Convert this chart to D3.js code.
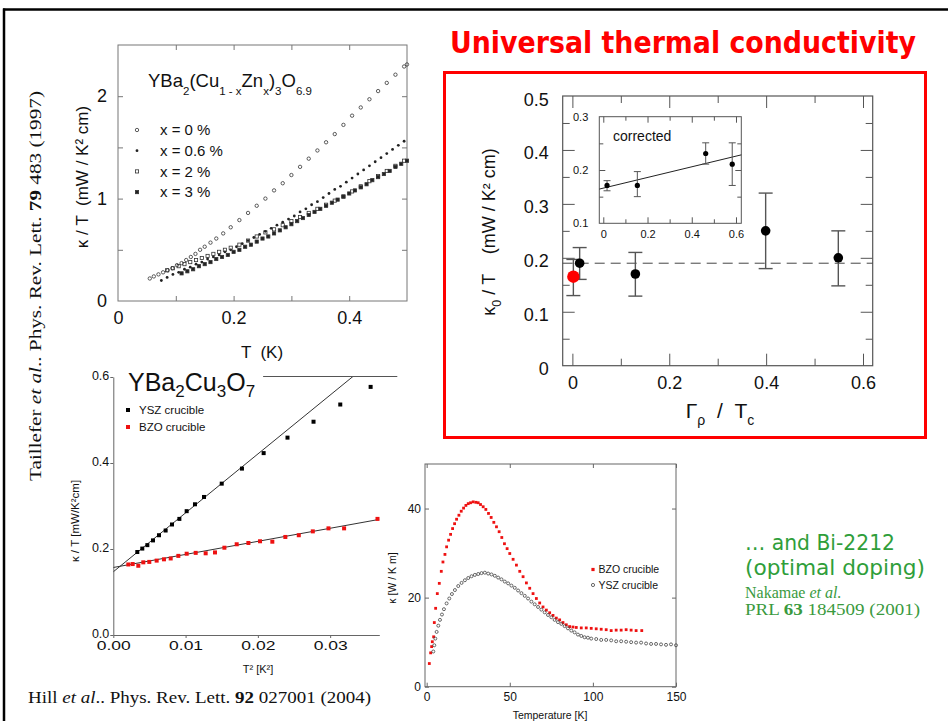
<!DOCTYPE html>
<html>
<head>
<meta charset="utf-8">
<script src="https://cdn.jsdelivr.net/npm/d3@7"></script>
<style>
  body { margin: 0; background: #fff; }
  svg { display: block; }
  text { white-space: pre; }
</style>
</head>
<body>
<svg id="slide" width="948" height="721"></svg>
<script>
// ---------- Taillefer et al. : kappa/T vs T, YBa2(Cu1-xZnx)3O6.9
const zn0 = [[0.055,0.22],[0.062,0.24],[0.07,0.26],[0.078,0.28],[0.086,0.30],[0.094,0.32],[0.102,0.35],
  [0.11,0.37],[0.118,0.40],[0.126,0.43],[0.134,0.46],[0.142,0.50],[0.15,0.53],[0.16,0.57],[0.17,0.61],
  [0.182,0.66],[0.195,0.72],[0.21,0.79],[0.225,0.86],[0.24,0.93],[0.255,1.00],[0.27,1.08],[0.285,1.15],
  [0.30,1.23],[0.315,1.31],[0.33,1.39],[0.345,1.47],[0.36,1.55],[0.375,1.63],[0.39,1.72],[0.405,1.81],
  [0.42,1.89],[0.435,1.97],[0.45,2.05],[0.465,2.13],[0.48,2.21],[0.495,2.29],[0.50,2.31]];
const zn06 = [[0.075,0.20],[0.085,0.23],[0.095,0.26],[0.105,0.28],[0.115,0.31],[0.125,0.33],[0.135,0.36],
  [0.145,0.38],[0.155,0.41],[0.165,0.43],[0.175,0.45],[0.185,0.48],[0.195,0.50],[0.205,0.53],[0.215,0.56],
  [0.225,0.59],[0.235,0.62],[0.245,0.65],[0.255,0.68],[0.265,0.71],[0.275,0.74],[0.285,0.77],[0.295,0.80],
  [0.305,0.83],[0.315,0.87],[0.325,0.90],[0.335,0.94],[0.345,0.97],[0.355,1.01],[0.365,1.05],[0.375,1.09],
  [0.385,1.12],[0.395,1.16],[0.405,1.20],[0.415,1.24],[0.425,1.28],[0.435,1.32],[0.445,1.36],[0.455,1.40],
  [0.465,1.44],[0.475,1.48],[0.485,1.52],[0.495,1.56]];
const zn2 = [[0.085,0.30],[0.095,0.32],[0.105,0.34],[0.115,0.36],[0.125,0.38],[0.135,0.40],[0.145,0.42],
  [0.155,0.44],[0.165,0.46],[0.175,0.48],[0.185,0.50],[0.195,0.52],[0.21,0.55],[0.225,0.59],[0.24,0.63],
  [0.255,0.67],[0.27,0.70],[0.285,0.74],[0.30,0.78],[0.315,0.82],[0.33,0.86],[0.345,0.90],[0.36,0.94],
  [0.375,0.98],[0.39,1.02],[0.405,1.07],[0.42,1.12],[0.435,1.17],[0.45,1.22],[0.465,1.27],[0.48,1.32],[0.495,1.37]];
const zn3 = [[0.11,0.27],[0.12,0.29],[0.13,0.31],[0.14,0.34],[0.15,0.36],[0.16,0.38],[0.17,0.41],[0.18,0.43],
  [0.19,0.45],[0.20,0.48],[0.21,0.50],[0.22,0.53],[0.23,0.55],[0.24,0.58],[0.25,0.61],[0.26,0.63],[0.27,0.66],
  [0.28,0.69],[0.29,0.72],[0.30,0.75],[0.31,0.78],[0.32,0.81],[0.33,0.84],[0.34,0.87],[0.35,0.90],[0.36,0.93],
  [0.37,0.96],[0.38,0.99],[0.39,1.02],[0.40,1.05],[0.41,1.08],[0.42,1.11],[0.43,1.14],[0.44,1.18],[0.45,1.21],
  [0.46,1.24],[0.47,1.27],[0.48,1.31],[0.49,1.34],[0.50,1.37]];
const znLegend = ['x = 0 %', 'x = 0.6 %', 'x = 2 %', 'x = 3 %'];
const aXLabels = [0, 0.2, 0.4];
const aYLabels = [0, 1, 2];

// ---------- Universal thermal conductivity : kappa0/T vs Gamma/Tc
const gammaX = [0.015, 0.13, 0.399, 0.549];
const kappa0 = [0.19, 0.17, 0.25, 0.20];
const kappa0Lo = [0.16, 0.129, 0.18, 0.148];
const kappa0Hi = [0.219, 0.21, 0.32, 0.25];
const redGamma = [0.002];
const redKappa0 = [0.165];
const redLo = [0.13];
const redHi = [0.197];
const universalValue = 0.19;
const bXLabels = [0, 0.2, 0.4, 0.6];
const bYLabels = [0, 0.1, 0.2, 0.3, 0.4, 0.5];
// inset "corrected"
const insetX = [0.017, 0.154, 0.463, 0.583];
const insetY = [0.171, 0.171, 0.231, 0.211];
const insetLo = [0.161, 0.150, 0.211, 0.171];
const insetHi = [0.180, 0.197, 0.251, 0.251];
const insetFit = [0.166, 0.10]; // intercept, slope
const insetXLabels = [0, 0.2, 0.4, 0.6];
const insetYLabels = [0.1, 0.2, 0.3];

// ---------- Hill et al. : kappa/T vs T^2
const yszT2 = [0.00332,0.00401,0.00471,0.00549,0.00632,0.00724,0.00812,0.00914,0.01015,0.0113,0.01255,
  0.0150,0.0178,0.0208,0.0241,0.0277,0.0314,0.0356];
const yszK = [0.193,0.201,0.209,0.220,0.232,0.243,0.257,0.270,0.288,0.304,0.321,
  0.352,0.387,0.423,0.459,0.496,0.536,0.577];
const bzoT2 = [0.00208,0.00268,0.00346,0.00415,0.00498,0.006,0.00701,0.00794,0.009,0.01015,0.0114,0.01278,
  0.01407,0.01537,0.01707,0.01869,0.0203,0.022,0.0238,0.02566,0.0276,0.02977,0.03193,0.03655];
const bzoK = [0.164,0.165,0.161,0.169,0.170,0.173,0.176,0.178,0.184,0.189,0.191,0.190,
  0.192,0.203,0.211,0.214,0.218,0.217,0.228,0.232,0.241,0.248,0.248,0.270];
const yszFit = [0.147, 13.7];
const bzoFit = [0.157, 3.04];
const cXLabels = [0, 0.01, 0.02, 0.03];
const cYLabels = [0, 0.2, 0.4, 0.6];
const cLegend = ['YSZ crucible', 'BZO crucible'];

// ---------- kappa vs Temperature
const bzoKT = [[1.6,5.2],[2.4,7.6],[3,9.0],[3.4,10.1],[4.2,11.2],[4.6,14.4],[5.4,17.6],[6.4,20.9],[7.6,23.2],
  [8.8,25.9],[9.8,28.0],[11,29.7],[12,31.4],[13.2,32.9],[14.4,34.2],[15.6,35.5],[16.8,36.6],[18,37.6],
  [19.4,38.5],[20.8,39.4],[22.2,40.1],[23.6,40.7],[25,41.1],[26.4,41.3],[28,41.5],[29.6,41.4],[31,41.3],
  [32.4,40.9],[34,40.4],[35.6,39.8],[37.2,38.9],[38.8,38.0],[40.4,36.9],[42,35.9],[43.6,34.8],[45.2,33.5],
  [46.8,32.1],[48.4,31.0],[50,29.9],[52,28.6],[54,27.3],[56,25.9],[58,24.7],[60,23.3],[62,22.1],[64,20.9],
  [66,19.8],[68,18.8],[70,17.9],[72,17.2],[74,16.6],[76,16.0],[78,15.4],[80,15.0],[82,14.4],[84,13.9],
  [86,13.5],[88,13.4],[90,13.3],[93,13.2],[96,13.2],[99,13.1],[102,13.0],[105,12.9],[108,12.8],[111,12.6],
  [114,12.7],[117,12.7],[120,12.8],[123,12.7],[126,12.6],[129.4,12.6]];
const yszKT = [[4,7.9],[4.6,9.3],[5.2,10.8],[6,12.3],[7,13.7],[8,15.0],[9.2,16.2],[10.4,17.4],[12,18.7],
  [13.6,19.8],[15.2,20.8],[17,21.7],[19,22.6],[21,23.3],[23,23.9],[25,24.4],[27,24.8],[29,25.1],[31,25.3],
  [33,25.5],[35,25.6],[37,25.4],[39,25.2],[41,24.9],[43,24.5],[45,24.1],[47,23.6],[49,23.2],[51,22.7],
  [53,22.2],[55,21.6],[57,21.0],[59,20.4],[61,19.8],[63,19.1],[65,18.5],[67,17.9],[69,17.3],[71,16.7],
  [73,16.1],[75,15.6],[77,15.0],[79,14.5],[81,14.1],[83,13.6],[85,13.1],[87,12.6],[89,12.2],[91,11.7],
  [93,11.4],[95,11.1],[97,11.0],[99,10.8],[102,10.7],[105,10.5],[108,10.5],[111,10.4],[114,10.2],[117,10.2],
  [120,10.1],[123,10.0],[126,9.9],[129,9.9],[132,9.7],[135,9.6],[138,9.6],[141,9.5],[144,9.4],[147,9.5],[150,9.3]];
const dXLabels = [0, 50, 100, 150];
const dYLabels = [0, 20, 40];
const dLegend = ['BZO crucible', 'YSZ crucible'];

const sans = '"Liberation Sans", Arial, Helvetica, sans-serif';
const serif = '"Liberation Serif", "Times New Roman", serif';
const comic = '"Comic Sans MS", "DejaVu Sans", sans-serif';

const svg = d3.select('#slide');

// ---- helpers
function frame(g, x, y, color, w) {
  const [x0, x1] = x.range(), [y0, y1] = y.range();
  g.append('rect').attr('x', x0).attr('y', y1).attr('width', x1 - x0).attr('height', y0 - y1)
    .attr('fill', 'none').attr('stroke', color).attr('stroke-width', w);
}

function inTicks(g, x, y, xv, yv, xl, yl, color) {
  const [x0, x1] = x.range(), [y0, y1] = y.range();
  [[d3.axisBottom(x).tickValues(xv).tickSize(-xl), `translate(0,${y0})`],
   [d3.axisTop(x).tickValues(xv).tickSize(-xl), `translate(0,${y1})`],
   [d3.axisLeft(y).tickValues(yv).tickSize(-yl), `translate(${x0},0)`],
   [d3.axisRight(y).tickValues(yv).tickSize(-yl), `translate(${x1},0)`]
  ].forEach(([ax, tr]) => {
    const a = g.append('g').attr('transform', tr).call(ax.tickFormat(''));
    a.select('.domain').remove();
    a.selectAll('line').attr('stroke', color);
  });
}

function tickLabels(g, axis, tr, size, pad) {
  const a = g.append('g').attr('transform', tr).call(axis.tickSize(0).tickPadding(pad));
  a.select('.domain').remove();
  a.attr('font-size', size).attr('font-family', sans);
  a.selectAll('text').attr('fill', '#111');
  return a;
}

// parts: [string, isSub]
function richText(g, x, y, parts, size, subSize, drop) {
  const t = g.append('text').attr('x', x).attr('y', y)
    .attr('font-family', sans).attr('font-size', size).attr('fill', '#111');
  let down = false;
  parts.forEach(([s, sub]) => {
    const ts = t.append('tspan').text(s);
    if (sub) {
      ts.attr('font-size', subSize);
      if (!down) { ts.attr('dy', drop); down = true; }
    } else if (down) { ts.attr('dy', -drop); down = false; }
  });
  return t;
}

// ---- slide frame
svg.append('line').attr('x1', 3).attr('x2', 948).attr('y1', 9.5).attr('y2', 9.5)
  .attr('stroke', '#000').attr('stroke-width', 2.5);
svg.append('line').attr('x1', 4).attr('x2', 4).attr('y1', 8.5).attr('y2', 721)
  .attr('stroke', '#000').attr('stroke-width', 2.5);

// =============== Panel A (Taillefer)
const xA = d3.scaleLinear().domain([0, 0.5]).range([118, 407]);
const yA = d3.scaleLinear().domain([0, 2.5]).range([301, 45]);
const gA = svg.append('g');
inTicks(gA, xA, yA, [0.1, 0.2, 0.3, 0.4], [0.5, 1, 1.5, 2], 5, 5, '#777');
frame(gA, xA, yA, '#777', 1);
tickLabels(gA, d3.axisLeft(yA).tickValues(aYLabels).tickFormat(d3.format('d')), `translate(118,0)`, 18, 11);
tickLabels(gA, d3.axisBottom(xA).tickValues(aXLabels).tickFormat(d => d === 0 ? '0' : d3.format('.1f')(d)),
  `translate(0,301)`, 18, 10);
gA.append('text').attr('transform', 'translate(82,177) rotate(-90)').attr('text-anchor', 'middle')
  .attr('dy', '0.35em').attr('font-family', sans).attr('font-size', 17).attr('fill', '#111')
  .text('κ / T  (mW / K² cm)');
gA.append('text').attr('x', 262).attr('y', 358).attr('text-anchor', 'middle')
  .attr('font-family', sans).attr('font-size', 17).attr('fill', '#111').text('T  (K)');
richText(gA, 148, 87, [['YBa'], ['2', 1], ['(Cu'], ['1 - x', 1], ['Zn'], ['x', 1], [')'], ['3', 1], ['O'], ['6.9', 1]],
  18.5, 11.5, 8);

const markersA = [
  {data: zn0, shape: 'circle', fill: 'none'},
  {data: zn06, shape: 'dot', fill: '#222'},
  {data: zn2, shape: 'square', fill: 'none'},
  {data: zn3, shape: 'square', fill: '#222'}
];
function drawMarker(sel, shape, fill) {
  if (shape === 'circle') {
    sel.append('circle').attr('r', 1.7).attr('fill', fill).attr('stroke', '#333').attr('stroke-width', 0.8);
  } else if (shape === 'dot') {
    sel.append('circle').attr('r', 1.4).attr('fill', fill);
  } else {
    sel.append('rect').attr('x', -1.6).attr('y', -1.6).attr('width', 3.2).attr('height', 3.2)
      .attr('fill', fill).attr('stroke', '#333').attr('stroke-width', 0.8);
  }
}
markersA.forEach((m, i) => {
  gA.append('g').selectAll('g').data(m.data).join('g')
    .attr('transform', d => `translate(${xA(d[0])},${yA(d[1])})`)
    .call(s => drawMarker(s, m.shape, m.fill));
  const lg = gA.append('g').attr('transform', `translate(137,${130 + i * 20.7})`);
  drawMarker(lg, m.shape, m.fill);
  lg.append('text').attr('x', 23).attr('dy', '0.35em').attr('font-family', sans).attr('font-size', 15)
    .attr('fill', '#111').text(znLegend[i]);
});

// =============== Panel B (universal)
svg.append('text').attr('x', 450).attr('y', 53).attr('font-family', comic).attr('font-weight', 'bold')
  .attr('font-size', 31).attr('fill', '#ff0000').attr('textLength', 466).attr('lengthAdjust', 'spacingAndGlyphs')
  .text('Universal thermal conductivity');
svg.append('rect').attr('x', 444.5).attr('y', 72.5).attr('width', 481).attr('height', 365)
  .attr('fill', 'none').attr('stroke', '#ff0000').attr('stroke-width', 3);

const xB = d3.scaleLinear().domain([-0.02, 0.62]).range([562.7, 872.7]);
const yB = d3.scaleLinear().domain([0, 0.5]).range([365.7, 96]);
const gB = svg.append('g');
inTicks(gB, xB, yB, [0.1, 0.3, 0.5], [0.05, 0.15, 0.25, 0.35, 0.45], 7, 7, '#555');
inTicks(gB, xB, yB, [0, 0.2, 0.4, 0.6], [0.1, 0.2, 0.3, 0.4], 12, 12, '#555');
frame(gB, xB, yB, '#555', 1.2);
tickLabels(gB, d3.axisLeft(yB).tickValues(bYLabels).tickFormat(d => d === 0 ? '0' : d3.format('.1f')(d)),
  `translate(562.7,0)`, 18, 14).selectAll('text').attr('dy', '0.5em');
tickLabels(gB, d3.axisBottom(xB).tickValues(bXLabels).tickFormat(d => d === 0 ? '0' : d3.format('.1f')(d)),
  `translate(0,365.7)`, 18, 11);

// dashed universal line
gB.append('line').attr('x1', xB.range()[0]).attr('x2', xB.range()[1])
  .attr('y1', yB(universalValue)).attr('y2', yB(universalValue))
  .attr('stroke', '#444').attr('stroke-width', 1).attr('stroke-dasharray', '10,6');

function errorBars(g, x, y, xs, lo, hi, cap, color, w) {
  const eb = g.append('g').attr('stroke', color).attr('stroke-width', w);
  eb.selectAll('.v').data(xs).join('line').attr('class', 'v')
    .attr('x1', d => x(d)).attr('x2', d => x(d)).attr('y1', (d, i) => y(lo[i])).attr('y2', (d, i) => y(hi[i]));
  eb.selectAll('.lo').data(xs).join('line').attr('class', 'lo')
    .attr('x1', d => x(d) - cap).attr('x2', d => x(d) + cap).attr('y1', (d, i) => y(lo[i])).attr('y2', (d, i) => y(lo[i]));
  eb.selectAll('.hi').data(xs).join('line').attr('class', 'hi')
    .attr('x1', d => x(d) - cap).attr('x2', d => x(d) + cap).attr('y1', (d, i) => y(hi[i])).attr('y2', (d, i) => y(hi[i]));
}
errorBars(gB, xB, yB, redGamma, redLo, redHi, 7, '#555', 1.4);
errorBars(gB, xB, yB, gammaX, kappa0Lo, kappa0Hi, 7, '#555', 1.4);
gB.selectAll('.pt').data(gammaX).join('circle').attr('class', 'pt')
  .attr('cx', d => xB(d)).attr('cy', (d, i) => yB(kappa0[i])).attr('r', 4.8).attr('fill', '#000');
gB.selectAll('.red').data(redGamma).join('circle').attr('class', 'red')
  .attr('cx', d => xB(d)).attr('cy', (d, i) => yB(redKappa0[i])).attr('r', 6.2).attr('fill', '#ff0000');

const yTitleB = richText(gB, 0, 0, [['κ'], ['0', 1], [' / T    (mW / K² cm)']], 18, 12.5, 6);
yTitleB.attr('text-anchor', 'middle').attr('transform', 'translate(495,232) rotate(-90)').attr('x', null).attr('y', null);
const xTitleB = richText(gB, 720, 418, [['Γ'], ['ρ', 1], ['  /  T'], ['c', 1]], 21, 14, 7);
xTitleB.attr('text-anchor', 'middle');

// inset
const xI = d3.scaleLinear().domain([-0.018, 0.624]).range([599.3, 741.3]);
const yI = d3.scaleLinear().domain([0.1, 0.3]).range([223.3, 116.7]);
const gI = svg.append('g');
gI.append('rect').attr('x', 599.3).attr('y', 116.7).attr('width', 142).attr('height', 106.6).attr('fill', '#fff');
inTicks(gI, xI, yI, [0.1, 0.3, 0.5], [0.15, 0.25], 4, 4, '#555');
inTicks(gI, xI, yI, [0, 0.2, 0.4, 0.6], [0.2], 6, 6, '#555');
frame(gI, xI, yI, '#555', 1);
tickLabels(gI, d3.axisLeft(yI).tickValues(insetYLabels).tickFormat(d3.format('.1f')), `translate(599.3,0)`, 11, 11);
tickLabels(gI, d3.axisBottom(xI).tickValues(insetXLabels).tickFormat(d => d === 0 ? '0' : d3.format('.1f')(d)),
  `translate(0,223.3)`, 11, 7);
gI.append('text').attr('x', 613).attr('y', 141).attr('font-family', sans).attr('font-size', 14)
  .attr('fill', '#111').text('corrected');
const [ix0, ix1] = xI.domain();
gI.append('line').attr('x1', xI(ix0)).attr('x2', xI(ix1))
  .attr('y1', yI(insetFit[0] + insetFit[1] * ix0)).attr('y2', yI(insetFit[0] + insetFit[1] * ix1))
  .attr('stroke', '#222').attr('stroke-width', 1);
errorBars(gI, xI, yI, insetX, insetLo, insetHi, 3.5, '#555', 1);
gI.selectAll('.ipt').data(insetX).join('circle').attr('class', 'ipt')
  .attr('cx', d => xI(d)).attr('cy', (d, i) => yI(insetY[i])).attr('r', 2.6).attr('fill', '#000');

// =============== Panel C (Hill, kappa/T vs T^2)
const xC = d3.scaleLinear().domain([0, 0.0368]).range([113.3, 379.3]);
const yC = d3.scaleLinear().domain([0, 0.6]).range([635, 377]);
const gC = svg.append('g');
const axC1 = gC.append('g').attr('transform', 'translate(113.3,0)')
  .call(d3.axisLeft(yC).tickValues(cYLabels).tickFormat(d3.format('.1f')).tickSize(3).tickSizeOuter(0).tickPadding(1));
const axC2 = gC.append('g').attr('transform', 'translate(0,635)')
  .call(d3.axisBottom(xC).tickValues(cXLabels).tickFormat(d3.format('.2f')).tickSize(3).tickSizeOuter(0).tickPadding(3));
[axC1, axC2].forEach(a => {
  a.attr('font-size', 12.5).attr('font-family', sans);
  a.selectAll('line,path').attr('stroke', '#666');
  a.selectAll('text').attr('fill', '#111');
});
axC1.selectAll('text').attr('dy', '0.2em');
axC2.selectAll('text').attr('textLength', 34).attr('lengthAdjust', 'spacingAndGlyphs');
gC.append('defs').append('clipPath').attr('id', 'clipC').append('rect')
  .attr('x', 113.3).attr('y', 377).attr('width', 266).attr('height', 258);
const [cx0, cx1] = xC.domain();
[yszFit, bzoFit].forEach(f => {
  gC.append('line').attr('clip-path', 'url(#clipC)')
    .attr('x1', xC(cx0)).attr('x2', xC(cx1))
    .attr('y1', yC(f[0] + f[1] * cx0)).attr('y2', yC(f[0] + f[1] * cx1))
    .attr('stroke', '#333').attr('stroke-width', 1);
});
gC.selectAll('.ysz').data(yszT2).join('rect').attr('class', 'ysz')
  .attr('x', d => xC(d) - 2).attr('y', (d, i) => yC(yszK[i]) - 2).attr('width', 4).attr('height', 4).attr('fill', '#000');
gC.selectAll('.bzo').data(bzoT2).join('rect').attr('class', 'bzo')
  .attr('x', d => xC(d) - 2).attr('y', (d, i) => yC(bzoK[i]) - 2).attr('width', 4).attr('height', 4).attr('fill', '#ee1111');
const titleC = richText(gC, 128, 391, [['YBa'], ['2', 1], ['Cu'], ['3', 1], ['O'], ['7', 1]], 25, 17, 6);
const tb = titleC.node().getBBox();
gC.append('line').attr('x1', tb.x + tb.width + 8).attr('x2', xC.range()[1] + 18)
  .attr('y1', 376.5).attr('y2', 376.5).attr('stroke', '#555').attr('stroke-width', 1);
cLegend.forEach((name, i) => {
  const lg = gC.append('g').attr('transform', `translate(128,${410 + i * 17})`);
  lg.append('rect').attr('x', -2).attr('y', -2).attr('width', 4).attr('height', 4).attr('fill', i ? '#ee1111' : '#000');
  lg.append('text').attr('x', 11).attr('dy', '0.36em').attr('font-family', sans).attr('font-size', 11.5)
    .attr('fill', '#111').text(name);
});
gC.append('text').attr('transform', 'translate(75,521) rotate(-90)').attr('text-anchor', 'middle')
  .attr('dy', '0.35em').attr('font-family', sans).attr('font-size', 11.5).attr('fill', '#111')
  .text('κ / T [mW/K²cm]');
gC.append('text').attr('x', 258).attr('y', 673).attr('text-anchor', 'middle').attr('font-family', sans)
  .attr('font-size', 11).attr('fill', '#111').text('T² [K²]');

// =============== Panel D (kappa vs T)
const xD = d3.scaleLinear().domain([-1, 150]).range([425, 676]);
const yD = d3.scaleLinear().domain([0, 50]).range([686.7, 464]);
const gD = svg.append('g');
inTicks(gD, xD, yD, dXLabels, dYLabels, 4, 4, '#666');
frame(gD, xD, yD, '#666', 1);
tickLabels(gD, d3.axisLeft(yD).tickValues(dYLabels), `translate(425,0)`, 12, 4);
tickLabels(gD, d3.axisBottom(xD).tickValues(dXLabels), `translate(0,686.7)`, 12, 6);
gD.selectAll('.bk').data(bzoKT).join('rect').attr('class', 'bk')
  .attr('x', d => xD(d[0]) - 1.4).attr('y', d => yD(d[1]) - 1.4).attr('width', 2.8).attr('height', 2.8).attr('fill', '#ee1111');
gD.selectAll('.yk').data(yszKT).join('circle').attr('class', 'yk')
  .attr('cx', d => xD(d[0])).attr('cy', d => yD(d[1])).attr('r', 1.5)
  .attr('fill', 'none').attr('stroke', '#444').attr('stroke-width', 0.8);
dLegend.forEach((name, i) => {
  const lg = gD.append('g').attr('transform', `translate(593,${569.5 + i * 15.5})`);
  if (i === 0) lg.append('rect').attr('x', -1.6).attr('y', -1.6).attr('width', 3.2).attr('height', 3.2).attr('fill', '#ee1111');
  else lg.append('circle').attr('r', 1.6).attr('fill', 'none').attr('stroke', '#444').attr('stroke-width', 0.8);
  lg.append('text').attr('x', 5.5).attr('dy', '0.36em').attr('font-family', sans).attr('font-size', 10.5)
    .attr('fill', '#111').text(name);
});
gD.append('text').attr('x', 550).attr('y', 719).attr('text-anchor', 'middle').attr('font-family', sans)
  .attr('font-size', 10.5).attr('fill', '#111').text('Temperature [K]');
gD.append('text').attr('transform', 'translate(392,578) rotate(-90)').attr('text-anchor', 'middle')
  .attr('dy', '0.35em').attr('font-family', sans).attr('font-size', 10.5).attr('fill', '#111')
  .text('κ [W / K m]');

// =============== references and notes
const refA = svg.append('text').attr('transform', 'translate(41,286) rotate(-90)').attr('text-anchor', 'middle')
  .attr('font-family', serif).attr('font-size', 17.5).attr('fill', '#111')
  .attr('textLength', 390).attr('lengthAdjust', 'spacingAndGlyphs');
refA.append('tspan').text('Taillefer ');
refA.append('tspan').attr('font-style', 'italic').text('et al');
refA.append('tspan').text('.. Phys. Rev. Lett. ');
refA.append('tspan').attr('font-weight', 'bold').text('79');
refA.append('tspan').text(' 483 (1997)');

const refC = svg.append('text').attr('x', 28).attr('y', 703)
  .attr('font-family', serif).attr('font-size', 17).attr('fill', '#111')
  .attr('textLength', 343).attr('lengthAdjust', 'spacingAndGlyphs');
refC.append('tspan').text('Hill ');
refC.append('tspan').attr('font-style', 'italic').text('et al');
refC.append('tspan').text('.. Phys. Rev. Lett. ');
refC.append('tspan').attr('font-weight', 'bold').text('92');
refC.append('tspan').text(' 027001 (2004)');

const green = '#2f9e3a';
svg.append('text').attr('x', 745).attr('y', 550).attr('font-family', comic).attr('font-size', 21)
  .attr('fill', green).attr('textLength', 150).attr('lengthAdjust', 'spacingAndGlyphs').text('… and Bi-2212');
svg.append('text').attr('x', 745).attr('y', 575).attr('font-family', comic).attr('font-size', 21)
  .attr('fill', green).attr('textLength', 180).attr('lengthAdjust', 'spacingAndGlyphs').text('(optimal doping)');
const nak = svg.append('text').attr('x', 745).attr('y', 598).attr('font-family', serif).attr('font-size', 16)
  .attr('fill', '#3a9a3e');
nak.append('tspan').text('Nakamae ');
nak.append('tspan').attr('font-style', 'italic').text('et al.');
const prl = svg.append('text').attr('x', 745).attr('y', 615).attr('font-family', serif).attr('font-size', 16)
  .attr('fill', '#3a9a3e').attr('textLength', 175).attr('lengthAdjust', 'spacingAndGlyphs');
prl.append('tspan').text('PRL ');
prl.append('tspan').attr('font-weight', 'bold').text('63');
prl.append('tspan').text(' 184509 (2001)');
</script>
</body>
</html>
